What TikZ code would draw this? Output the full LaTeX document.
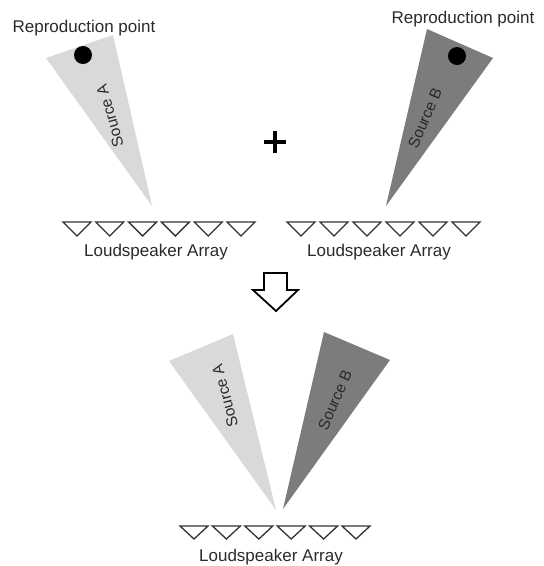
\documentclass[tikz,border=0pt]{standalone}
\usepackage{fontspec}
\setmainfont{Liberation Sans}
\definecolor{txt}{HTML}{2A2A2A}
\definecolor{lightsrc}{HTML}{D9D9D9}
\definecolor{darksrc}{HTML}{7C7C7C}
\definecolor{spkc}{HTML}{333333}
\begin{document}
\begin{tikzpicture}[x=1pt,y=-1pt,
  lbl/.style={font=\fontsize{17}{20}\selectfont, text=txt, inner sep=0pt},
  srclbl/.style={font=\fontsize{15.5}{18}\selectfont, text=txt, inner sep=0pt},
  spk/.style={draw=spkc, line width=1.3pt, line join=miter, fill=white},
  dot/.style={circle, fill=black, inner sep=0pt, minimum size=18pt}]
\useasboundingbox (0,0) rectangle (544,566);
% top left source A
\fill[lightsrc] (46,58) -- (113,35) -- (152,206) -- cycle;
\node[dot] (dotA) at (83,55) {};
\node[lbl] (rpA) at (84,28) {Reproduction point};
\node[srclbl, rotate=106] (srcA) at (110,116) {Source A};
% top right source B
\fill[darksrc] (427,29) -- (493,58) -- (386,206) -- cycle;
\node[dot] (dotB) at (457,56) {};
\node[lbl] (rpB) at (463,19) {Reproduction point};
\node[srclbl, rotate=67] (srcB) at (425,118) {Source B};
% plus
\coordinate (plus) at (275,142);
\draw[line width=3.6pt] ([xshift=-11pt]plus) -- ([xshift=11pt]plus);
\draw[line width=3.6pt] ([yshift=-11pt]plus) -- ([yshift=11pt]plus);
% top arrays
\foreach \i in {0,...,5}
  \draw[spk] ({63+\i*32.8},222) -- ++(28,0) -- ++(-14,14) -- cycle;
\node[lbl] (arrL) at (156,252) {Loudspeaker Array};
\foreach \i in {0,...,5}
  \draw[spk] ({287+\i*33},222) -- ++(28,0) -- ++(-14,14) -- cycle;
\node[lbl] (arrR) at (379,252) {Loudspeaker Array};
% hollow arrow
\draw[line width=1.8pt, fill=white, line join=miter]
  (264,273) -- (287,273) -- (287,290) -- (298,290) -- (276,311) -- (253,290) -- (264,290) -- cycle;
% bottom sources
\fill[lightsrc] (169,361) -- (233,334) -- (276,510) -- cycle;
\fill[darksrc] (324,332) -- (390,360) -- (283,509) -- cycle;
\node[srclbl, rotate=105] (srcA2) at (225,396) {Source A};
\node[srclbl, rotate=67] (srcB2) at (335,400) {Source B};
% bottom array
\foreach \i in {0,...,5}
  \draw[spk] ({180+\i*32.4},526) -- ++(28,0) -- ++(-14,13) -- cycle;
\node[lbl] (arrB) at (271,557) {Loudspeaker Array};
\end{tikzpicture}
\end{document}
